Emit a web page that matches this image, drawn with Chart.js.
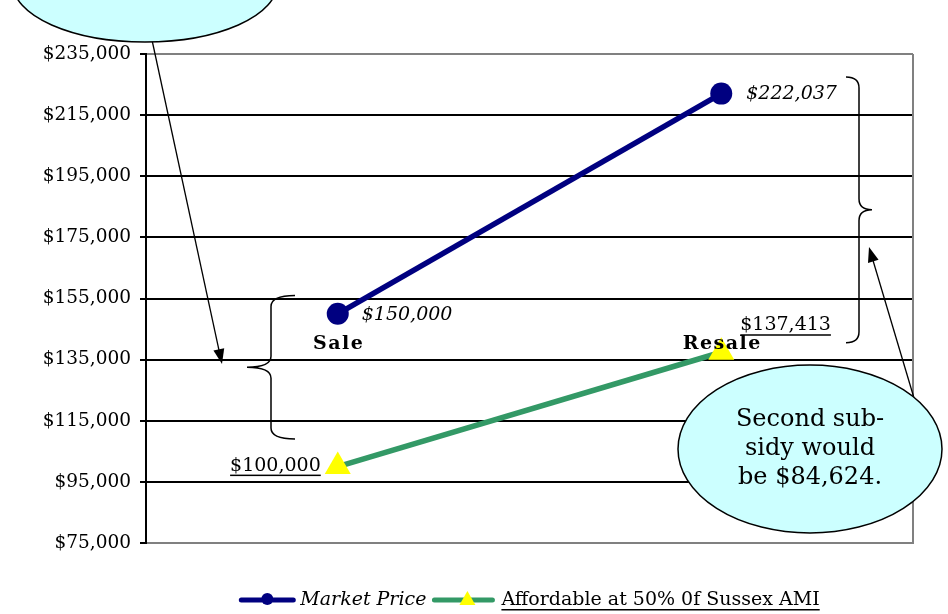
<!DOCTYPE html>
<html>
<head>
<meta charset="utf-8">
<title>Market Price vs Affordable Price</title>
<script src="https://cdn.jsdelivr.net/npm/chart.js@4.4.1/dist/chart.umd.min.js"></script>
<style>
  html, body { margin: 0; padding: 0; background: #fff; }
  #wrap { position: relative; width: 948px; height: 614px; }
</style>
</head>
<body>
<div id="wrap"><canvas id="priceChart"></canvas></div>
<script>
// ── Data ────────────────────────────────────────────────────────────
const categories   = ['Sale', 'Resale'];
const marketPrice  = [150000, 222037];
const affordable   = [100000, 137413];
const seriesNames  = ['Market Price', 'Affordable at 50% 0f Sussex AMI'];
const yMin = 75000, yMax = 235000, yStep = 20000;
const categoryLabelLevel = 140000;     // where "Sale" / "Resale" sit
const subsidyBrace = [156000, 109000];  // first subsidy span
const resaleBrace  = [227500, 140500];  // second subsidy span

// ── Styling ─────────────────────────────────────────────────────────
const C = {
  navy:   '#000080',
  green:  '#339966',
  yellow: '#ffff00',
  grid:   '#000000',
  frame:  '#808080',
  bubble: '#ccffff',
  text:   '#000000',
};
const SERIF = '"DejaVu Serif", Georgia, serif';

const money = v => '$' + v.toLocaleString('en-US');

// ── Annotation helpers ──────────────────────────────────────────────
function brace(ctx, xs, y1, y2, endOff, tipOff, r) {
  const ym = (y1 + y2) / 2;
  ctx.beginPath();
  ctx.moveTo(xs + endOff, y1);
  ctx.quadraticCurveTo(xs, y1, xs, y1 + r);
  ctx.lineTo(xs, ym - r);
  ctx.quadraticCurveTo(xs, ym, xs + tipOff, ym);
  ctx.quadraticCurveTo(xs, ym, xs, ym + r);
  ctx.lineTo(xs, y2 - r);
  ctx.quadraticCurveTo(xs, y2, xs + endOff, y2);
  ctx.stroke();
}

function arrow(ctx, x1, y1, x2, y2) {
  const a = Math.atan2(y2 - y1, x2 - x1);
  const len = 15, half = 5.5;
  ctx.beginPath();
  ctx.moveTo(x1, y1);
  ctx.lineTo(x2 - Math.cos(a) * len * 0.8, y2 - Math.sin(a) * len * 0.8);
  ctx.stroke();
  ctx.beginPath();
  ctx.moveTo(x2, y2);
  ctx.lineTo(x2 - Math.cos(a) * len - Math.sin(a) * half, y2 - Math.sin(a) * len + Math.cos(a) * half);
  ctx.lineTo(x2 - Math.cos(a) * len + Math.sin(a) * half, y2 - Math.sin(a) * len - Math.cos(a) * half);
  ctx.closePath();
  ctx.fill();
}

function bubble(ctx, cx, cy, rx, ry) {
  ctx.beginPath();
  ctx.ellipse(cx, cy, rx, ry, 0, 0, Math.PI * 2);
  ctx.fillStyle = C.bubble;
  ctx.fill();
  ctx.lineWidth = 1.5;
  ctx.strokeStyle = '#000';
  ctx.stroke();
}

function underlinedText(ctx, str, x, y, align) {
  ctx.textAlign = align;
  ctx.fillText(str, x, y);
  const w = ctx.measureText(str).width;
  const x0 = align === 'right' ? x - w : align === 'center' ? x - w / 2 : x;
  ctx.fillRect(x0, y + 9, w, 1.5);
}

// ── Plugin: point labels, braces, callouts, legend ──────────────────
const annotations = {
  id: 'annotations',
  beforeDatasetsDraw(chart) {
    const { ctx, chartArea: a } = chart;
    ctx.save();
    ctx.strokeStyle = C.frame;
    ctx.lineWidth = 2;
    ctx.beginPath();
    ctx.moveTo(a.right, a.top);
    ctx.lineTo(a.right, a.bottom);
    ctx.stroke();
    ctx.restore();
  },
  afterDatasetsDraw(chart) {
    const { ctx, scales: { x, y } } = chart;
    const mkt = chart.getDatasetMeta(0).data;
    const aff = chart.getDatasetMeta(1).data;
    ctx.save();
    ctx.fillStyle = C.text;
    ctx.textBaseline = 'middle';

    // value labels
    ctx.font = 'italic 19px ' + SERIF;
    ctx.textAlign = 'left';
    ctx.fillText(money(marketPrice[0]), mkt[0].x + 24, mkt[0].y + 1);
    ctx.fillText(money(marketPrice[1]), mkt[1].x + 25, mkt[1].y);

    ctx.font = '19px ' + SERIF;
    underlinedText(ctx, money(affordable[0]), aff[0].x - 17, aff[0].y - 1, 'right');
    underlinedText(ctx, money(affordable[1]), aff[1].x + 19, aff[1].y - 27, 'left');

    // category labels
    ctx.font = 'bold 19px ' + SERIF;
    ctx.letterSpacing = '1.5px';
    ctx.textAlign = 'center';
    const ly = y.getPixelForValue(categoryLabelLevel);
    categories.forEach((c, i) => ctx.fillText(c, x.getPixelForValue(i) + 1, ly));
    ctx.letterSpacing = '0px';
    ctx.restore();
  },
  afterDraw(chart) {
    const { ctx, chartArea: a, scales: { y } } = chart;
    ctx.save();
    ctx.strokeStyle = '#000';
    ctx.fillStyle = '#000';
    ctx.lineWidth = 1.5;

    // braces
    brace(ctx, 271, y.getPixelForValue(subsidyBrace[0]), y.getPixelForValue(subsidyBrace[1]), 24, -24, 11);
    brace(ctx, 859, y.getPixelForValue(resaleBrace[0]), y.getPixelForValue(resaleBrace[1]), -13, 13, 11);

    // callout arrows
    ctx.lineWidth = 1.3;
    arrow(ctx, 152, 40, 222, 364);
    arrow(ctx, 914, 398, 869, 247);

    // callouts
    bubble(ctx, 145, -16, 132, 58);
    bubble(ctx, 810, 449, 132, 84);
    ctx.fillStyle = C.text;
    ctx.font = '24px ' + SERIF;
    ctx.textAlign = 'center';
    ctx.textBaseline = 'middle';
    const second = money(marketPrice[1] - affordable[1]);
    ['Second sub-', 'sidy would', 'be ' + second + '.'].forEach((s, i) => {
      ctx.fillText(s, 810, 420 + i * 29);
    });

    // legend
    const ly = 600;
    const sw1 = 56, sw2 = 62;
    ctx.font = 'italic 19px ' + SERIF;
    const t1 = ctx.measureText(seriesNames[0]).width;
    ctx.font = '19px ' + SERIF;
    const t2 = ctx.measureText(seriesNames[1]).width;
    const total = sw1 + 5 + t1 + 6 + sw2 + 7 + t2;
    let lx = (a.left + a.right) / 2 - total / 2;

    ctx.lineCap = 'round';
    ctx.lineWidth = 5;
    ctx.strokeStyle = C.navy;
    ctx.beginPath(); ctx.moveTo(lx + 2, ly); ctx.lineTo(lx + sw1 - 2, ly); ctx.stroke();
    ctx.fillStyle = C.navy;
    ctx.beginPath(); ctx.arc(lx + sw1 / 2, ly - 1, 6, 0, Math.PI * 2); ctx.fill();
    lx += sw1 + 5;
    ctx.fillStyle = C.text;
    ctx.textAlign = 'left';
    ctx.font = 'italic 19px ' + SERIF;
    ctx.fillText(seriesNames[0], lx, ly);
    lx += t1 + 6;

    ctx.strokeStyle = C.green;
    ctx.beginPath(); ctx.moveTo(lx + 2, ly); ctx.lineTo(lx + sw2 - 2, ly); ctx.stroke();
    ctx.fillStyle = C.yellow;
    const tx = lx + sw2 / 2 + 4;
    ctx.beginPath();
    ctx.moveTo(tx, ly - 9); ctx.lineTo(tx + 8, ly + 5); ctx.lineTo(tx - 8, ly + 5);
    ctx.closePath(); ctx.fill();
    lx += sw2 + 7;
    ctx.fillStyle = C.text;
    ctx.font = '19px ' + SERIF;
    underlinedText(ctx, seriesNames[1], lx, ly, 'left');
    ctx.restore();
  },
};

// ── Chart ───────────────────────────────────────────────────────────
new Chart(document.getElementById('priceChart'), {
  type: 'line',
  data: {
    labels: categories,
    datasets: [
      {
        label: seriesNames[0],
        data: marketPrice,
        borderColor: C.navy,
        borderWidth: 5.5,
        pointRadius: 11,
        pointHoverRadius: 11,
        pointBackgroundColor: C.navy,
        pointBorderWidth: 0,
        tension: 0,
      },
      {
        label: seriesNames[1],
        data: affordable,
        borderColor: C.green,
        borderWidth: 5.5,
        pointStyle: 'triangle',
        pointRadius: 15,
        pointHoverRadius: 15,
        pointBackgroundColor: C.yellow,
        pointBorderColor: C.yellow,
        pointBorderWidth: 0,
        tension: 0,
      },
    ],
  },
  options: {
    responsive: true,
    maintainAspectRatio: false,
    animation: false,
    events: [],
    layout: { padding: { left: 0, right: 35, top: 54, bottom: 63 } },
    plugins: {
      legend: { display: false },
      tooltip: { enabled: false },
    },
    scales: {
      x: {
        offset: true,
        grid: { display: false },
        ticks: { display: false },
        border: { display: true, color: C.frame, width: 2 },
      },
      y: {
        min: yMin,
        max: yMax,
        afterFit(scale) { scale.width = 146; },
        ticks: {
          stepSize: yStep,
          padding: 9,
          color: C.text,
          font: { family: SERIF, size: 18.5 },
          callback: v => money(v),
        },
        grid: {
          color: ctx => (ctx.tick && (ctx.tick.value === yMin || ctx.tick.value === yMax)) ? C.frame : C.grid,
          tickColor: C.grid,
          lineWidth: 2,
          tickLength: 6,
        },
        border: { color: '#000', width: 2 },
      },
    },
  },
  plugins: [annotations],
});
</script>
</body>
</html>
